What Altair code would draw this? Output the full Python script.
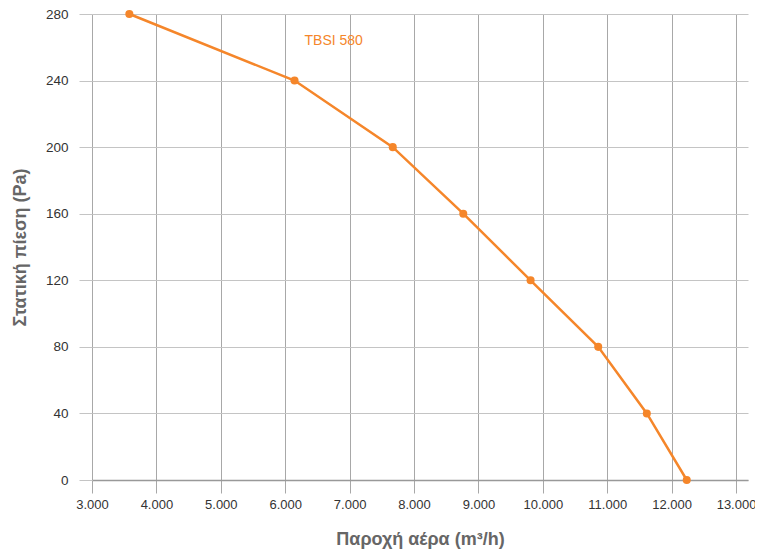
import altair as alt
import pandas as pd

flow = [3580, 6145, 7670, 8765, 9810, 10860, 11615, 12235]
pressure = [280, 240, 200, 160, 120, 80, 40, 0]
series_name = "TBSI 580"
label_pos = [6300, 264]
x_ticks = [3000, 4000, 5000, 6000, 7000, 8000, 9000, 10000, 11000, 12000, 13000]
y_ticks = [0, 40, 80, 120, 160, 200, 240, 280]

ORANGE = "#f5862a"
FONT = "Liberation Sans"

df = pd.DataFrame({"flow": flow, "pressure": pressure})
lab = pd.DataFrame({"x": [label_pos[0]], "y": [label_pos[1]], "t": [series_name]})

xs = alt.Scale(domain=[3000, 13186], nice=False, zero=False)
ys = alt.Scale(domain=[0, 280], nice=False)

x_axis = alt.Axis(
    values=x_ticks,
    labelExpr="replace(format(datum.value, ',d'), ',', '.')",
    labelFlush=False, labelOverlap=False,
    grid=True, gridColor="#a8a8a8", gridWidth=1,
    tickSize=13, tickColor="#a8a8a8",
    domain=True, domainColor="#999999", domainWidth=1.5,
    labelFont=FONT, labelFontSize=13, labelColor="#333333", labelPadding=5,
    title="Παροχή αέρα (m³/h)", titleFont=FONT, titleFontSize=18,
    titleFontWeight="bold", titleColor="#666666", titlePadding=19,
)
y_axis = alt.Axis(
    values=y_ticks,
    labelFlush=False, labelOverlap=False,
    grid=True, gridColor="#c4c4c4", gridWidth=1,
    tickSize=13, tickColor="#c4c4c4",
    domain=False,
    labelFont=FONT, labelFontSize=13.5, labelColor="#333333", labelPadding=11,
    title="Στατική πίεση (Pa)", titleFont=FONT, titleFontSize=18,
    titleFontWeight="bold", titleColor="#666666", titlePadding=16,
)

line = alt.Chart(df).mark_line(color=ORANGE, strokeWidth=2.5).encode(
    x=alt.X("flow:Q", scale=xs, axis=x_axis),
    y=alt.Y("pressure:Q", scale=ys, axis=y_axis),
)
pts = alt.Chart(df).mark_circle(color=ORANGE, size=65, opacity=1).encode(
    x=alt.X("flow:Q", scale=xs),
    y=alt.Y("pressure:Q", scale=ys),
)
txt = alt.Chart(lab).mark_text(
    color=ORANGE, fontSize=14, font=FONT, align="left", baseline="middle"
).encode(
    x=alt.X("x:Q", scale=xs),
    y=alt.Y("y:Q", scale=ys),
    text="t:N",
)

chart = (line + pts + txt).properties(
    width=656, height=466,
    autosize=alt.AutoSizeParams(type="none"),
    padding={"left": 84, "top": 6, "right": 7, "bottom": 70},
).configure_view(stroke=None)

chart.save("out.html", embed_options={"renderer": "svg", "actions": False})
